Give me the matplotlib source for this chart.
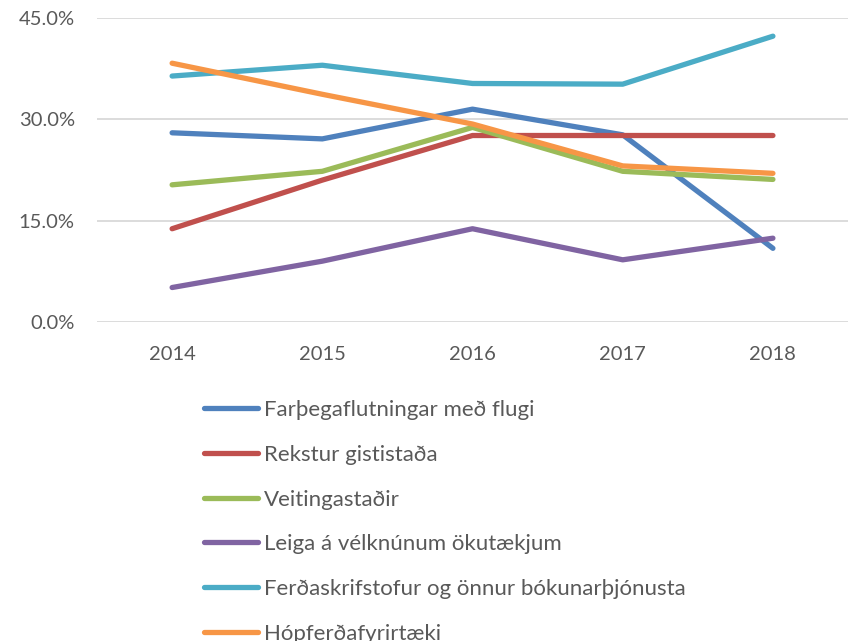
import matplotlib.pyplot as plt
from matplotlib.ticker import FuncFormatter

# Gögn lesin af myndinni (hlutfall, %)
years = ['2014', '2015', '2016', '2017', '2018']
series_names = [
    'Farþegaflutningar með flugi',
    'Rekstur gististaða',
    'Veitingastaðir',
    'Leiga á vélknúnum ökutækjum',
    'Ferðaskrifstofur og önnur bókunarþjónusta',
    'Hópferðafyrirtæki',
]
flug = [28.0, 27.1, 31.5, 27.7, 10.9]
gisting = [13.8, 21.0, 27.6, 27.6, 27.6]
veitingar = [20.3, 22.3, 28.8, 22.3, 21.1]
leiga = [5.1, 9.0, 13.8, 9.2, 12.4]
ferdaskrifstofur = [36.4, 38.0, 35.3, 35.2, 42.3]
hopferdir = [38.3, 33.7, 29.3, 23.1, 22.0]
colors = ['#4F81BD', '#C0504D', '#9BBB59', '#8064A2', '#4BACC6', '#F79646']

plt.rcParams['font.family'] = ['Lato', 'DejaVu Sans']
text_color = '#595959'

fig = plt.figure(figsize=(8.54, 6.41), dpi=100)
ax = fig.add_axes([0.1136, 0.4977, 0.8794, 0.4743])

x = range(len(years))
all_series = [flug, gisting, veitingar, leiga, ferdaskrifstofur, hopferdir]
for vals, name, c in zip(all_series, series_names, colors):
    ax.plot(x, vals, color=c, linewidth=3.8, label=name, solid_capstyle='round')

ax.set_xlim(-0.5, len(years) - 0.5)
ax.set_ylim(0, 45)
ax.set_yticks([0, 15, 30, 45])
ax.yaxis.set_major_formatter(FuncFormatter(lambda v, p: f'{v:.1f}%'))
ax.set_xticks(list(x))
ax.set_xticklabels(years)
ax.grid(axis='y', color='#D9D9D9', linewidth=1.3)
ax.set_axisbelow(True)
for s in ax.spines.values():
    s.set_visible(False)
ax.tick_params(length=0, labelsize=14.5, colors=text_color)
ax.tick_params(axis='x', pad=17)
ax.tick_params(axis='y', pad=16)

fig.legend(loc='upper left', bbox_to_anchor=(0.226, 0.393), frameon=False,
           fontsize=16, handlelength=2.43, handletextpad=0.27, labelspacing=1.11,
           borderpad=0, labelcolor=text_color)

fig.savefig('out.png', dpi=100)
